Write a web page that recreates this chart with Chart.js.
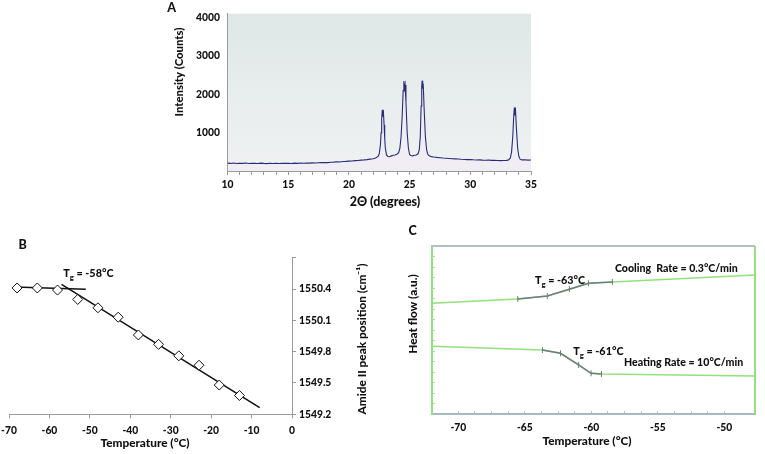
<!DOCTYPE html>
<html>
<head>
<meta charset="utf-8">
<script src="https://cdn.jsdelivr.net/npm/chart.js@4.4.1/dist/chart.umd.min.js"></script>
<style>
body { margin: 0; background: #fff; }
#wrap { position: relative; width: 765px; height: 454px; overflow: hidden; }
canvas { position: absolute; }
</style>
</head>
<body>
<div id="wrap">
  <canvas id="chartA" width="400" height="215" style="left:150px;top:0px"></canvas>
  <canvas id="chartB" width="400" height="224" style="left:-20px;top:230px"></canvas>
  <canvas id="chartC" width="385" height="229" style="left:380px;top:225px"></canvas>
</div>
<script>
// Panel A - XRD pattern
const xrdAngle = [10.0, 10.25, 10.5, 10.75, 11.0, 11.25, 11.5, 11.75, 12.0, 12.25, 12.5, 12.75, 13.0, 13.25, 13.5, 13.75,
  14.0, 14.25, 14.5, 14.75, 15.0, 15.25, 15.5, 15.75, 16.0, 16.25, 16.5, 16.75, 17.0, 17.25, 17.5, 17.75,
  18.0, 18.25, 18.5, 18.75, 19.0, 19.25, 19.5, 19.75, 20.0, 20.25, 20.5, 20.75, 21.0, 21.25, 21.5, 21.75,
  22.0, 22.2, 22.4, 22.5, 22.6, 22.65, 22.7, 22.75, 22.8, 22.85, 22.9, 22.95, 23.0, 23.1, 23.2, 23.35,
  23.5, 23.65, 23.8, 23.95, 24.1, 24.2, 24.3, 24.4, 24.47, 24.53, 24.58, 24.63, 24.7, 24.8, 24.9, 25.0,
  25.1, 25.25, 25.4, 25.55, 25.7, 25.8, 25.88, 25.95, 26.0, 26.03, 26.08, 26.12, 26.2, 26.3, 26.4, 26.5,
  26.65, 26.8, 27.0, 27.25, 27.5, 27.75, 28.0, 28.25, 28.5, 28.75, 29.0, 29.25, 29.5, 29.75, 30.0, 30.25,
  30.5, 30.75, 31.0, 31.25, 31.5, 31.75, 32.0, 32.25, 32.5, 32.75, 33.0, 33.15, 33.3, 33.4, 33.5, 33.57,
  33.63, 33.68, 33.73, 33.8, 33.9, 34.0, 34.1, 34.25, 34.5, 34.75, 35.0];
const xrdCounts = [205, 198, 210, 196, 204, 199, 208, 195, 203, 200, 196, 206, 198, 194, 202, 197,
  200, 195, 203, 198, 201, 196, 205, 200, 207, 203, 210, 206, 212, 208, 215, 218,
  222, 219, 228, 232, 240, 236, 248, 252, 258, 262, 270, 274, 285, 290, 298, 310,
  322, 340, 380, 450, 700, 1000, 1350, 1600, 1420, 1500, 1200, 850, 600, 420, 380, 372,
  395, 410, 420, 440, 480, 600, 900, 1500, 2100, 2350, 2150, 2250, 1800, 1000, 600, 430,
  405, 395, 410, 420, 450, 560, 900, 1700, 2200, 2360, 2150, 2280, 1600, 900, 560, 430,
  390, 375, 365, 355, 348, 340, 335, 328, 320, 318, 312, 305, 302, 298, 300, 292,
  288, 290, 285, 282, 286, 278, 280, 276, 272, 274, 278, 290, 340, 500, 900, 1400,
  1660, 1450, 1550, 1100, 600, 380, 310, 290, 295, 285, 288];
const aTicks = [1000, 2000, 3000, 4000];

// Panel B - Amide II peak position vs temperature
const bTemp = [-68, -63, -58, -53, -48, -43, -38, -33, -28, -23, -18, -13];
const bPeak = [1550.41, 1550.41, 1550.39, 1550.30, 1550.22, 1550.13, 1549.96, 1549.87, 1549.76, 1549.67, 1549.48, 1549.38];
const bFlatX = [-68.6, -51];
const bFlatY = [1550.42, 1550.397];
const bSlopeX = [-57, -8];
const bSlopeY = [1550.445, 1549.264];
const bTicks = [1549.2, 1549.5, 1549.8, 1550.1, 1550.4, 1550.7];

// Panel C - DSC heat flow
const coolX = [-72, -65.53, -63.31, -61.65, -60.22, -58.42, -47.7];
const coolY = [2.638, 2.741, 2.812, 2.971, 3.114, 3.145, 3.311];
const coolMarkX = [-65.53, -63.31, -61.65, -60.22, -58.42];
const coolMarkY = [2.741, 2.812, 2.971, 3.114, 3.145];
const heatX = [-72, -63.68, -62.32, -60.96, -60.02, -59.24, -47.7];
const heatY = [1.616, 1.528, 1.45, 1.172, 0.974, 0.958, 0.91];
const heatMarkX = [-63.68, -62.32, -60.96, -60.02, -59.24];
const heatMarkY = [1.528, 1.45, 1.172, 0.974, 0.958];

const FONT = 'Lato, "Open Sans", sans-serif';
const WEIGHT = '900';
const AXIS_GRAY = '#9a9a9a';
const GREEN = '#93e07c';

Chart.defaults.font.family = FONT;
Chart.defaults.font.weight = WEIGHT;
Chart.defaults.font.size = 10.3;
Chart.defaults.color = '#111';

function pts(xs, ys) {
  return xs.map((x, i) => ({ x: x, y: ys[i] }));
}

// free text (titles, annotations) in page coordinates
const panelText = {
  id: 'panelText',
  afterDraw(chart, args, opts) {
    const ctx = chart.ctx;
    const ox = opts.ox || 0, oy = opts.oy || 0;
    (opts.items || []).forEach(it => {
      const size = it.size || 11.8;
      const parts = Array.isArray(it.text) ? it.text : [{ s: it.text }];
      ctx.save();
      ctx.translate(it.x - ox, it.y - oy);
      if (it.rot) ctx.rotate(it.rot);
      ctx.fillStyle = '#111';
      ctx.textBaseline = 'middle';
      ctx.textAlign = 'left';
      let w = 0;
      parts.forEach(p => {
        ctx.font = WEIGHT + ' ' + (p.sub ? size * 0.72 : size) + 'px ' + FONT;
        w += ctx.measureText(p.s).width;
      });
      let x = it.align === 'left' ? 0 : -w / 2;
      parts.forEach(p => {
        ctx.font = WEIGHT + ' ' + (p.sub ? size * 0.72 : size) + 'px ' + FONT;
        ctx.fillText(p.s, x, p.sub ? size * 0.34 : 0);
        x += ctx.measureText(p.s).width;
      });
      ctx.restore();
    });
  }
};

// plot area background for panel A, extra frame lines for panel C
const plotDecor = {
  id: 'plotDecor',
  beforeDraw(chart, args, opts) {
    const a = chart.chartArea;
    const ctx = chart.ctx;
    if (opts.gradient) {
      const g = ctx.createLinearGradient(0, a.top, 0, a.bottom);
      g.addColorStop(0, '#dfe7e7');
      g.addColorStop(1, '#f0f2f2');
      ctx.fillStyle = g;
      ctx.fillRect(a.left, a.top, a.right - a.left, a.bottom - a.top);
    }
  },
  afterDraw(chart, args, opts) {
    const a = chart.chartArea;
    const ctx = chart.ctx;
    if (opts.frame) {
      ctx.save();
      ctx.lineWidth = 2;
      ctx.strokeStyle = '#b3bfc6';
      ctx.beginPath();
      ctx.moveTo(a.left, a.top);
      ctx.lineTo(a.right, a.top);
      ctx.stroke();
      ctx.strokeStyle = GREEN;
      ctx.beginPath();
      ctx.moveTo(a.right, a.top);
      ctx.lineTo(a.right, a.bottom);
      ctx.stroke();
      ctx.restore();
    }
  }
};
Chart.register(panelText, plotDecor);

const common = {
  responsive: false,
  animation: false,
  events: []
};

// ---- A ----
new Chart(document.getElementById('chartA'), {
  type: 'line',
  data: {
    datasets: [{
      data: pts(xrdAngle, xrdCounts),
      borderColor: '#262c78',
      borderWidth: 1.1,
      pointRadius: 0,
      tension: 0,
      fill: 'origin',
      backgroundColor: '#f1edf5'
    }]
  },
  options: Object.assign({}, common, {
    layout: { padding: { top: 10, right: 19, left: 0, bottom: 0 } },
    plugins: {
      legend: { display: false },
      tooltip: { enabled: false },
      plotDecor: { gradient: true },
      panelText: {
        ox: 150, oy: 0,
        items: [
          { text: 'A', x: 171.7, y: 8, size: 12.5 },
          { text: 'Intensity (Counts)', x: 179.3, y: 72, rot: -Math.PI / 2, size: 11.3 },
          { text: '2Θ (degrees)', x: 385, y: 201.7, size: 12.5 }
        ]
      }
    },
    scales: {
      x: {
        type: 'linear', min: 10, max: 35,
        ticks: { stepSize: 1, autoSkip: false, maxRotation: 0, padding: 3,
          callback: v => (v % 5 === 0 ? String(v) : '') },
        grid: { drawOnChartArea: false, tickLength: 4, color: AXIS_GRAY },
        border: { color: AXIS_GRAY },
        afterFit: s => { s.height = 44; }
      },
      y: {
        min: 0, max: 4110,
        afterBuildTicks: s => { s.ticks = aTicks.map(v => ({ value: v })); },
        ticks: { padding: 7.5, callback: v => String(v) },
        grid: { drawOnChartArea: false, drawTicks: false, color: AXIS_GRAY },
        border: { color: AXIS_GRAY },
        afterFit: s => { s.width = 77.5; }
      }
    }
  })
});

// ---- B ----
new Chart(document.getElementById('chartB'), {
  type: 'scatter',
  data: {
    datasets: [{
      data: pts(bTemp, bPeak),
      pointStyle: 'rectRot',
      pointRadius: 5,
      pointBackgroundColor: '#fff',
      pointBorderColor: '#111',
      pointBorderWidth: 1,
      order: 0
    }, {
      type: 'line',
      data: pts(bFlatX, bFlatY),
      borderColor: '#111', borderWidth: 1.5, pointRadius: 0, order: 1
    }, {
      type: 'line',
      data: pts(bSlopeX, bSlopeY),
      borderColor: '#111', borderWidth: 1.5, pointRadius: 0, order: 1
    }]
  },
  options: Object.assign({}, common, {
    layout: { padding: { top: 27.7, left: 29, right: 0, bottom: 0 } },
    plugins: {
      legend: { display: false },
      tooltip: { enabled: false },
      panelText: {
        ox: -20, oy: 230,
        items: [
          { text: 'B', x: 22.7, y: 245, size: 12.5 },
          { text: [{ s: 'T' }, { s: 'g', sub: true }, { s: ' = -58°C' }], x: 63.3, y: 274, size: 10.8, align: 'left' },
          { text: 'Temperature (°C)', x: 145, y: 443 },
          { text: 'Amide II peak position (cm⁻¹)', x: 361.7, y: 339, rot: -Math.PI / 2 }
        ]
      }
    },
    scales: {
      x: {
        type: 'linear', min: -70, max: 0,
        ticks: { stepSize: 10, maxRotation: 0, padding: 6 },
        grid: { drawOnChartArea: false, tickLength: 4, color: AXIS_GRAY },
        border: { color: AXIS_GRAY },
        afterFit: s => { s.height = 39.7; }
      },
      y: {
        position: 'right', min: 1549.2, max: 1550.7,
        afterBuildTicks: s => { s.ticks = bTicks.map(v => ({ value: v })); },
        ticks: { padding: 3, callback: v => (v > 1550.6 ? '' : v.toFixed(1)) },
        grid: { drawOnChartArea: false, tickLength: 4, color: AXIS_GRAY },
        border: { color: AXIS_GRAY },
        afterFit: s => { s.width = 88; }
      }
    }
  })
});

// ---- C ----
const markStyle = {
  borderColor: '#6f7d7e', borderWidth: 1.5, tension: 0,
  pointStyle: 'line', rotation: 90, pointRadius: 3,
  pointBorderColor: '#6f7d7e', pointBorderWidth: 1, order: 0
};
const greenStyle = { borderColor: GREEN, borderWidth: 1.5, pointRadius: 0, tension: 0, order: 1 };

new Chart(document.getElementById('chartC'), {
  type: 'line',
  data: {
    datasets: [
      Object.assign({ data: pts(coolX, coolY) }, greenStyle),
      Object.assign({ data: pts(heatX, heatY) }, greenStyle),
      Object.assign({ data: pts(coolMarkX, coolMarkY) }, markStyle),
      Object.assign({ data: pts(heatMarkX, heatMarkY) }, markStyle)
    ]
  },
  options: Object.assign({}, common, {
    layout: { padding: { top: 21, right: 5.7, left: 0, bottom: 0 } },
    plugins: {
      legend: { display: false },
      tooltip: { enabled: false },
      plotDecor: { frame: true },
      panelText: {
        ox: 380, oy: 225,
        items: [
          { text: 'C', x: 412.5, y: 231, size: 12.5 },
          { text: 'Heat flow (a.u.)', x: 413, y: 314, rot: -Math.PI / 2 },
          { text: 'Temperature (°C)', x: 587, y: 441 },
          { text: 'Cooling  Rate = 0.3°C/min', x: 615, y: 268.3, size: 10.6, align: 'left' },
          { text: [{ s: 'T' }, { s: 'g', sub: true }, { s: ' = -63°C' }], x: 535, y: 280.7, size: 10.8, align: 'left' },
          { text: [{ s: 'T' }, { s: 'g', sub: true }, { s: ' = -61°C' }], x: 573.3, y: 351.7, size: 10.8, align: 'left' },
          { text: 'Heating Rate = 10°C/min', x: 624, y: 362.7, size: 10.6, align: 'left' }
        ]
      }
    },
    scales: {
      x: {
        type: 'linear', min: -72, max: -47.7,
        ticks: { stepSize: 1.25, autoSkip: false, maxRotation: 0, padding: 10,
          callback: v => (Math.abs(v % 5) < 1e-6 ? String(v) : '') },
        grid: { drawOnChartArea: false, tickLength: -3, color: '#a9b8c2' },
        border: { color: '#a9b8c2', width: 2 },
        afterFit: s => { s.height = 39.7; }
      },
      y: {
        min: 0, max: 4,
        ticks: { stepSize: 0.25, display: false },
        grid: { drawOnChartArea: false, tickLength: -3, color: GREEN },
        border: { color: GREEN, width: 2 },
        afterFit: s => { s.width = 51.7; }
      }
    }
  })
});
</script>
</body>
</html>
